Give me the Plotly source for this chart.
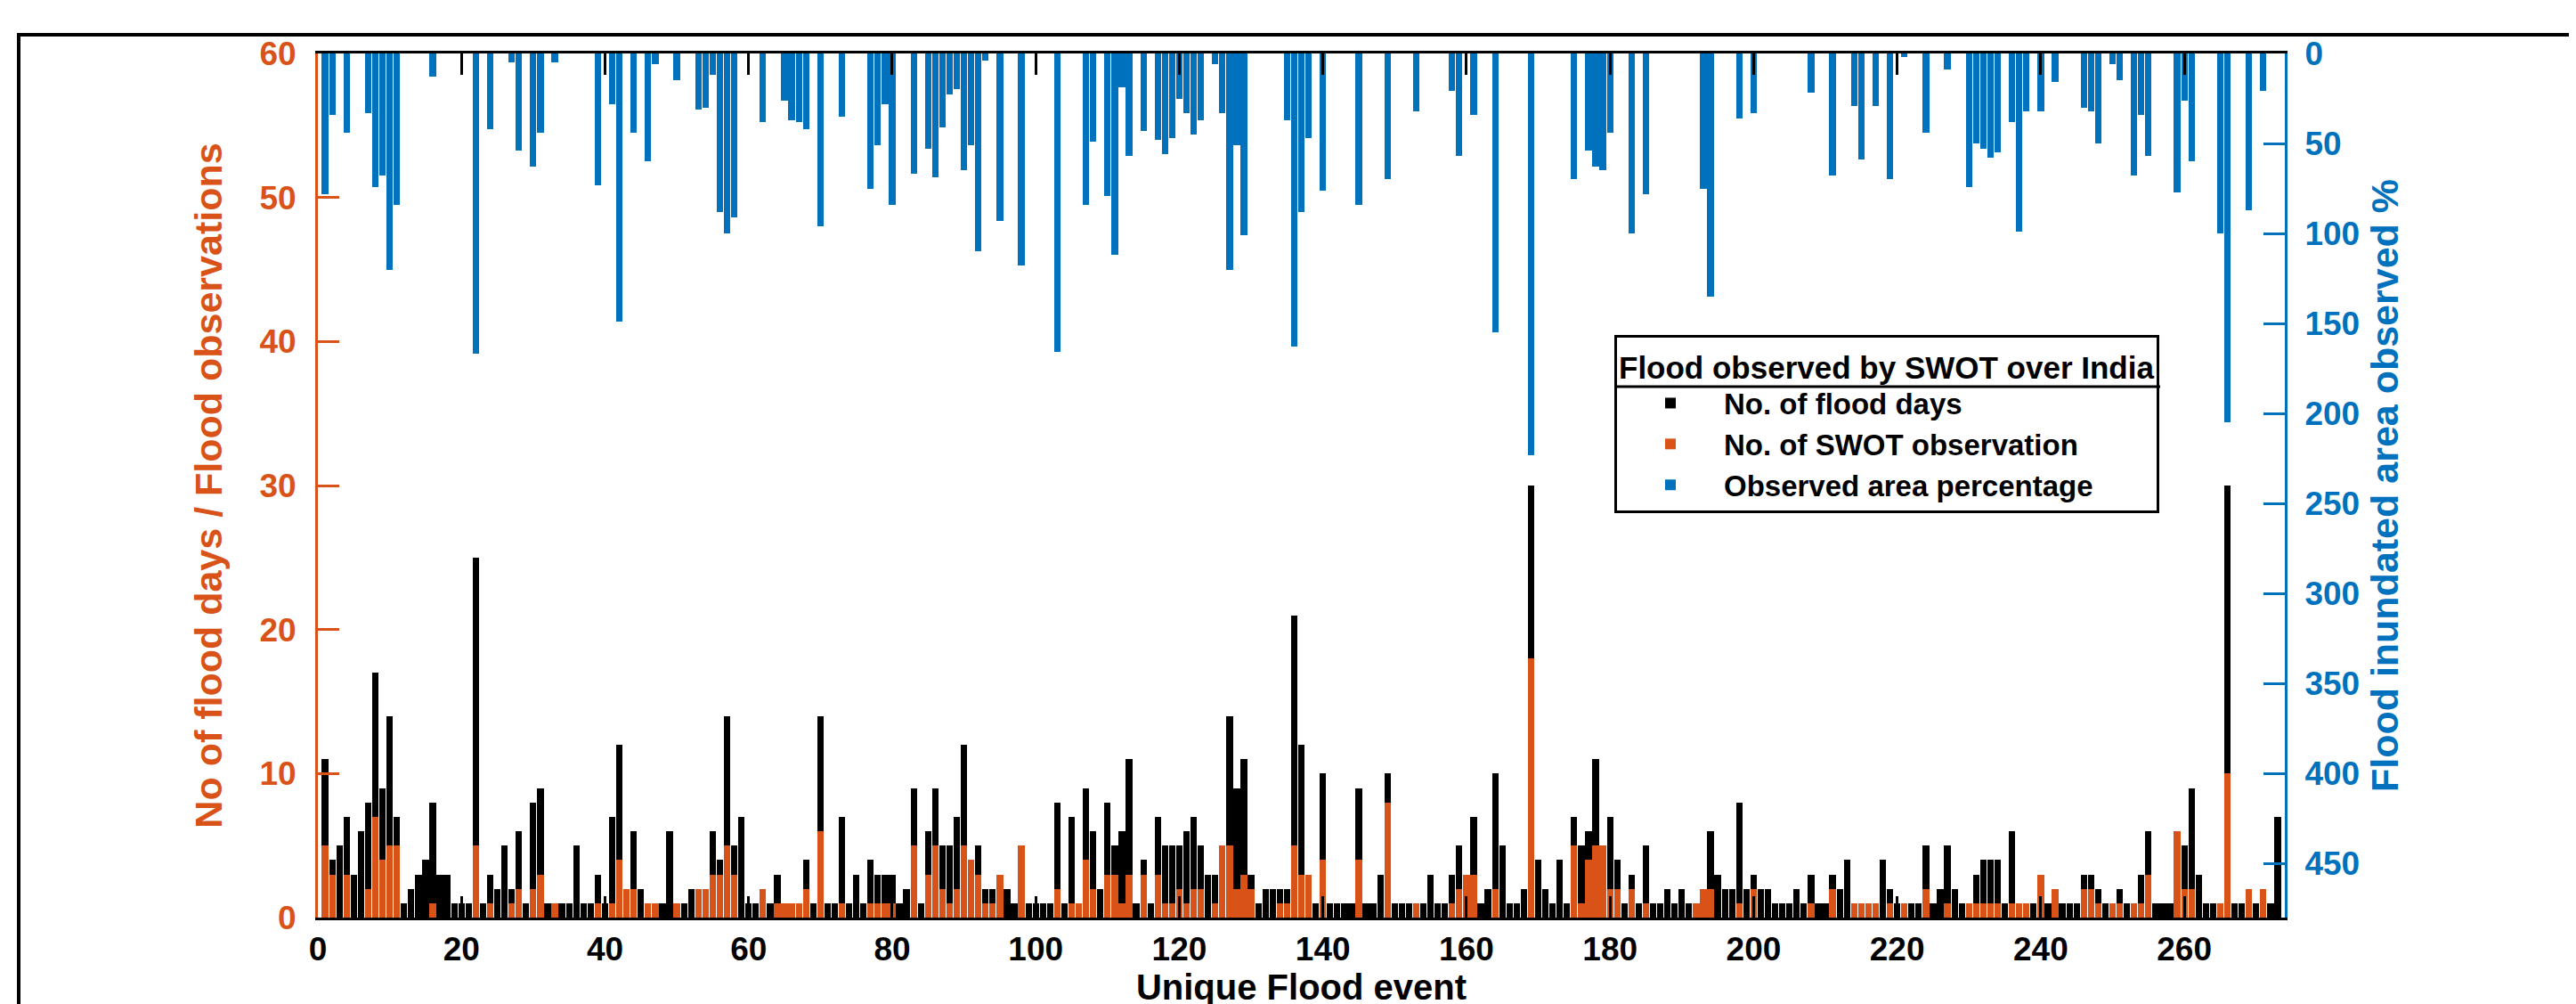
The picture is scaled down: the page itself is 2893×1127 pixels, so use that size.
import plotly.graph_objects as go

# ---------------- data ----------------
events = list(range(1, 274))

flood_days = [
    11, 4, 5, 7, 3, 6, 8, 17, 9, 14,
    7, 1, 2, 3, 4, 8, 3, 3, 1, 1,
    1, 25, 1, 3, 2, 5, 2, 6, 1, 8,
    9, 1, 1, 1, 1, 5, 1, 1, 3, 1,
    7, 12, 2, 6, 2, 1, 1, 1, 6, 1,
    1, 2, 2, 2, 6, 4, 14, 5, 7, 1,
    1, 2, 1, 3, 1, 1, 1, 4, 1, 14,
    1, 1, 7, 1, 3, 1, 4, 3, 3, 3,
    1, 2, 9, 1, 6, 9, 5, 5, 7, 12,
    4, 5, 2, 2, 3, 2, 1, 5, 1, 1,
    1, 1, 8, 1, 7, 1, 9, 6, 2, 8,
    5, 6, 11, 1, 4, 1, 7, 5, 5, 5,
    6, 7, 5, 3, 3, 5, 14, 9, 11, 3,
    1, 2, 2, 2, 2, 21, 12, 3, 1, 10,
    1, 1, 1, 1, 9, 1, 1, 3, 10, 1,
    1, 1, 1, 1, 3, 1, 1, 3, 5, 3,
    7, 1, 2, 10, 5, 1, 1, 2, 30, 4,
    2, 1, 4, 1, 7, 5, 6, 11, 5, 7,
    4, 1, 3, 1, 5, 1, 1, 2, 1, 2,
    1, 1, 2, 6, 3, 2, 2, 8, 2, 3,
    2, 2, 1, 1, 1, 2, 1, 3, 1, 1,
    3, 2, 4, 1, 1, 1, 1, 4, 2, 1,
    1, 1, 1, 5, 1, 2, 5, 2, 1, 1,
    3, 4, 4, 4, 1, 6, 1, 1, 1, 3,
    1, 2, 1, 1, 1, 3, 3, 2, 1, 1,
    2, 1, 1, 3, 6, 1, 1, 1, 6, 5,
    9, 3, 1, 1, 1, 30, 1, 1, 2, 1,
    2, 1, 7,
]

swot_obs = [
    5, 3, 0, 3, 0, 0, 2, 7, 4, 5,
    5, 0, 0, 0, 0, 1, 0, 0, 0, 0,
    0, 5, 0, 1, 0, 0, 1, 2, 0, 2,
    3, 0, 1, 0, 0, 0, 0, 0, 1, 0,
    1, 4, 2, 2, 0, 1, 1, 0, 0, 1,
    0, 0, 2, 2, 3, 3, 5, 3, 0, 0,
    0, 2, 0, 1, 1, 1, 1, 2, 0, 6,
    0, 0, 1, 0, 0, 0, 1, 1, 1, 1,
    0, 0, 5, 0, 3, 5, 2, 1, 2, 5,
    4, 3, 1, 1, 3, 0, 0, 5, 0, 0,
    0, 0, 2, 0, 1, 1, 4, 2, 0, 3,
    3, 1, 3, 0, 3, 0, 3, 1, 1, 2,
    1, 2, 2, 0, 1, 5, 5, 2, 3, 2,
    0, 0, 0, 1, 1, 5, 3, 3, 0, 4,
    0, 0, 0, 0, 4, 0, 0, 0, 8, 0,
    0, 0, 1, 0, 0, 0, 0, 1, 2, 3,
    3, 0, 0, 2, 0, 0, 0, 0, 18, 0,
    0, 0, 0, 0, 5, 1, 4, 5, 5, 2,
    2, 0, 2, 0, 1, 0, 0, 0, 0, 0,
    0, 1, 2, 2, 0, 0, 0, 1, 0, 2,
    0, 0, 0, 0, 0, 0, 0, 1, 0, 0,
    2, 0, 0, 1, 1, 1, 1, 0, 1, 0,
    1, 0, 0, 2, 0, 0, 1, 0, 0, 1,
    1, 1, 1, 1, 0, 1, 1, 1, 0, 3,
    0, 2, 0, 0, 0, 2, 2, 1, 0, 1,
    1, 0, 1, 1, 3, 0, 0, 0, 6, 2,
    2, 0, 0, 0, 1, 10, 0, 0, 2, 0,
    2, 0, 0,
]

area_pct = [
    78, 34, 0, 44, 0, 0, 33, 74, 68, 120,
    84, 0, 0, 0, 0, 13, 0, 0, 0, 0,
    0, 167, 0, 42, 0, 0, 5, 54, 0, 63,
    44, 0, 5, 0, 0, 0, 0, 0, 73, 0,
    28, 149, 0, 44, 0, 60, 6, 0, 0, 15,
    0, 0, 31, 30, 12, 88, 100, 91, 0, 0,
    0, 38, 0, 0, 26, 37, 38, 42, 0, 96,
    0, 0, 35, 0, 0, 0, 75, 51, 28, 84,
    0, 0, 67, 0, 53, 69, 41, 23, 20, 65,
    51, 110, 4, 0, 93, 0, 0, 118, 0, 0,
    0, 0, 166, 0, 0, 0, 84, 49, 0, 79,
    112, 19, 57, 0, 43, 0, 48, 56, 47, 25,
    33, 45, 37, 0, 6, 33, 120, 51, 101, 0,
    0, 0, 0, 0, 37, 163, 88, 47, 0, 76,
    0, 0, 0, 0, 84, 0, 0, 0, 70, 0,
    0, 0, 32, 0, 0, 0, 0, 21, 57, 0,
    34, 0, 0, 155, 0, 0, 0, 0, 223, 0,
    0, 0, 0, 0, 70, 0, 54, 63, 65, 44,
    0, 0, 100, 0, 78, 0, 0, 0, 0, 0,
    0, 0, 75, 135, 0, 0, 0, 36, 0, 33,
    0, 0, 0, 0, 0, 0, 0, 22, 0, 0,
    68, 0, 0, 29, 59, 0, 29, 0, 70, 0,
    2, 0, 0, 44, 0, 0, 9, 0, 0, 74,
    50, 53, 58, 55, 0, 38, 99, 32, 0, 32,
    0, 16, 0, 0, 0, 30, 32, 50, 0, 6,
    15, 0, 68, 34, 57, 0, 0, 0, 77, 26,
    60, 0, 0, 0, 100, 205, 0, 0, 87, 0,
    21, 0, 0,
]

x_ticks = list(range(0, 261, 20))
left_ticks = list(range(0, 61, 10))
right_ticks = list(range(0, 451, 50))

# ---------------- styling ----------------
W, H = 2893, 1127
PL, PR, PT, PB = 349, 2558, 52, 1022
BLACK, ORANGE, BLUE = "#000000", "#D95319", "#0072BD"
FONT = "Liberation Sans, Arial, Helvetica, sans-serif"
BAR_W = 0.9


def px_x(px):
    return (px - PL) / (PR - PL)


def px_y(py):
    return (PB - py) / (PB - PT)


fig = go.Figure()
fig.add_trace(go.Bar(x=events, y=flood_days, name="No. of flood days",
                     marker=dict(color=BLACK, line=dict(width=0)), width=BAR_W,
                     yaxis="y", opacity=1))
fig.add_trace(go.Bar(x=events, y=swot_obs, name="No. of SWOT observation",
                     marker=dict(color=ORANGE, line=dict(width=0)), width=BAR_W,
                     yaxis="y", opacity=1))
fig.add_trace(go.Bar(x=events, y=area_pct, name="Observed area percentage",
                     marker=dict(color=BLUE, line=dict(width=0)), width=BAR_W,
                     yaxis="y2", opacity=1))

tick_font = dict(family=FONT, size=37, weight="bold")
title_font = dict(family=FONT, size=43, weight="bold")

fig.update_layout(
    width=W, height=H,
    margin=dict(l=PL, r=W - PR, t=PT, b=H - PB, autoexpand=False),
    paper_bgcolor="white", plot_bgcolor="white",
    barmode="overlay", bargap=0,
    showlegend=True,
    legend=dict(
        x=px_x(1805), y=px_y(368), xanchor="left", yanchor="top",
        bgcolor="rgba(255,255,255,0)", bordercolor=BLACK, borderwidth=3,
        font=dict(family=FONT, size=33, color=BLACK, weight="bold"),
        title=dict(text="Flood observed by SWOT over India",
                   font=dict(family=FONT, size=35, color=BLACK, weight="bold")),
        traceorder="normal", itemwidth=110,
    ),
    xaxis=dict(
        range=[0, 274], tickvals=x_ticks, ticktext=[str(t) for t in x_ticks],
        ticks="inside", ticklen=24, tickwidth=3, tickcolor=BLACK,
        showline=True, linecolor=BLACK, linewidth=3, mirror="ticks",
        showgrid=False, zeroline=False, tickfont=dict(color=BLACK, **tick_font),
        ticklabelstandoff=1, automargin=False,
        title=dict(text="Unique Flood event",
                   font=dict(color=BLACK, family=FONT, size=40, weight="bold"), standoff=6),
    ),
    yaxis=dict(
        range=[0, 60], tickvals=left_ticks, ticks="inside", ticklen=24, tickwidth=3,
        tickcolor=ORANGE, showline=True, linecolor=ORANGE, linewidth=3,
        showgrid=False, zeroline=False, tickfont=dict(color=ORANGE, **tick_font),
        ticklabelstandoff=14, automargin=False,
        title=dict(text="No of flood days / Flood observations",
                   font=dict(color=ORANGE, **title_font), standoff=29),
    ),
    yaxis2=dict(
        overlaying="y", side="right", range=[480, 0], tickvals=right_ticks,
        ticks="inside", ticklen=24, tickwidth=3, tickcolor=BLUE,
        showline=True, linecolor=BLUE, linewidth=3,
        showgrid=False, zeroline=False, tickfont=dict(color=BLUE, **tick_font),
        ticklabelstandoff=12, automargin=False,
        title=dict(text="Flood inundated area observed %",
                   font=dict(color=BLUE, **title_font), standoff=14),
    ),
    shapes=[
        # white fill behind the legend
        dict(type="rect", xref="paper", yref="paper", layer="below",
             x0=px_x(1806), x1=px_x(2418), y0=px_y(565), y1=px_y(370),
             line=dict(width=0), fillcolor="white"),
        # separator under legend title
        dict(type="line", xref="paper", yref="paper",
             x0=px_x(1806), x1=px_x(2418), y0=px_y(426), y1=px_y(426),
             line=dict(color=BLACK, width=3)),
        # outer frame of the figure
        dict(type="rect", xref="paper", yref="paper",
             x0=px_x(13), x1=px_x(2886), y0=px_y(1145), y1=px_y(31),
             line=dict(color=BLACK, width=4), fillcolor="rgba(0,0,0,0)", layer="above"),
    ],
)

fig.write_html("out.html")
